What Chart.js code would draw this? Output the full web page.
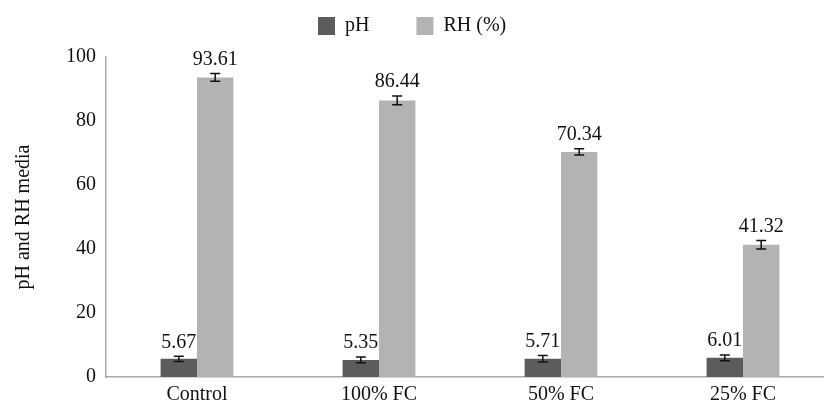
<!DOCTYPE html>
<html>
<head>
<meta charset="utf-8">
<script src="https://cdn.jsdelivr.net/npm/chart.js@4"></script>
<style>
  html, body { margin: 0; padding: 0; background: #fff; overflow: hidden; }
  #wrap { width: 824px; height: 406px; overflow: hidden; }
</style>
</head>
<body>
<!-- canvas is a little wider than the window: the original's x axis runs off the right edge -->
<div id="wrap"><canvas id="chart" width="834" height="406"></canvas></div>
<script>
var categories = ['Control', '100% FC', '50% FC', '25% FC'];
var phValues = [5.67, 5.35, 5.71, 6.01];
var rhValues = [93.61, 86.44, 70.34, 41.32];
var phErrors = [0.8, 0.9, 1.0, 0.9];
var rhErrors = [1.2, 1.4, 1.0, 1.3];
var yTicks = [0, 20, 40, 60, 80, 100];

var FONT = 'Liberation Serif';

// error bars + value labels drawn through the scales
var errorAndLabels = {
    id: 'errorAndLabels',
    afterDatasetsDraw: function (chart) {
        var ctx = chart.ctx;
        var yScale = chart.scales.y;
        var errs = [phErrors, rhErrors];
        chart.data.datasets.forEach(function (ds, di) {
            var meta = chart.getDatasetMeta(di);
            meta.data.forEach(function (bar, i) {
                var v = ds.data[i];
                var e = errs[di][i];
                var yTop = yScale.getPixelForValue(v + e);
                var yBot = yScale.getPixelForValue(v - e);
                var x = bar.x;
                ctx.save();
                ctx.strokeStyle = '#111';
                ctx.lineWidth = 1.5;
                ctx.beginPath();
                ctx.moveTo(x, yTop); ctx.lineTo(x, yBot);
                ctx.moveTo(x - 5, yTop); ctx.lineTo(x + 5, yTop);
                ctx.moveTo(x - 5, yBot); ctx.lineTo(x + 5, yBot);
                ctx.stroke();
                ctx.fillStyle = '#111';
                ctx.font = '20px "' + FONT + '"';
                ctx.textAlign = 'center';
                ctx.textBaseline = 'bottom';
                ctx.fillText(v.toFixed(2), x, yTop - 4);
                ctx.restore();
            });
        });
    }
};

// simple legend, placed like the original
var topLegend = {
    id: 'topLegend',
    afterDraw: function (chart) {
        var ctx = chart.ctx;
        var x = 318, y = 17;
        ctx.save();
        ctx.font = '20px "' + FONT + '"';
        ctx.textBaseline = 'middle';
        ctx.textAlign = 'left';
        chart.data.datasets.forEach(function (ds) {
            ctx.fillStyle = ds.backgroundColor;
            ctx.fillRect(x, y, 17, 18);
            ctx.fillStyle = '#111';
            ctx.fillText(ds.label, x + 27, y + 9);
            x += 27 + ctx.measureText(ds.label).width + 47;
        });
        ctx.restore();
    }
};

new Chart(document.getElementById('chart'), {
    type: 'bar',
    data: {
        labels: categories,
        datasets: [{
            label: 'pH',
            data: phValues,
            backgroundColor: '#5c5c5c',
            categoryPercentage: 0.4,
            barPercentage: 1.0
        }, {
            label: 'RH (%)',
            data: rhValues,
            backgroundColor: '#b3b3b3',
            categoryPercentage: 0.4,
            barPercentage: 1.0
        }]
    },
    options: {
        responsive: false,
        animation: false,
        layout: { padding: { top: 57, right: 0, bottom: 0, left: 0 } },
        plugins: {
            legend: { display: false },
            tooltip: { enabled: false }
        },
        scales: {
            x: {
                grid: { display: false, drawTicks: false },
                border: { color: '#a8a8a8', width: 1.5 },
                ticks: { color: '#111', font: { family: FONT, size: 20 }, padding: 6 },
                afterFit: function (s) { s.height = 29; }
            },
            y: {
                min: 0,
                max: 100,
                afterBuildTicks: function (s) {
                    s.ticks = yTicks.map(function (v) { return { value: v }; });
                },
                grid: { display: false, drawTicks: true, tickLength: 8, tickColor: '#a8a8a8' },
                border: { color: '#a8a8a8', width: 1.5 },
                ticks: { color: '#111', font: { family: FONT, size: 20 }, padding: 2 },
                title: {
                    display: true,
                    text: 'pH and RH media',
                    color: '#111',
                    font: { family: FONT, size: 20 },
                    padding: { top: 12, bottom: 0 }
                },
                afterFit: function (s) { s.width = 106; }
            }
        }
    },
    plugins: [errorAndLabels, topLegend]
});
</script>
</body>
</html>
